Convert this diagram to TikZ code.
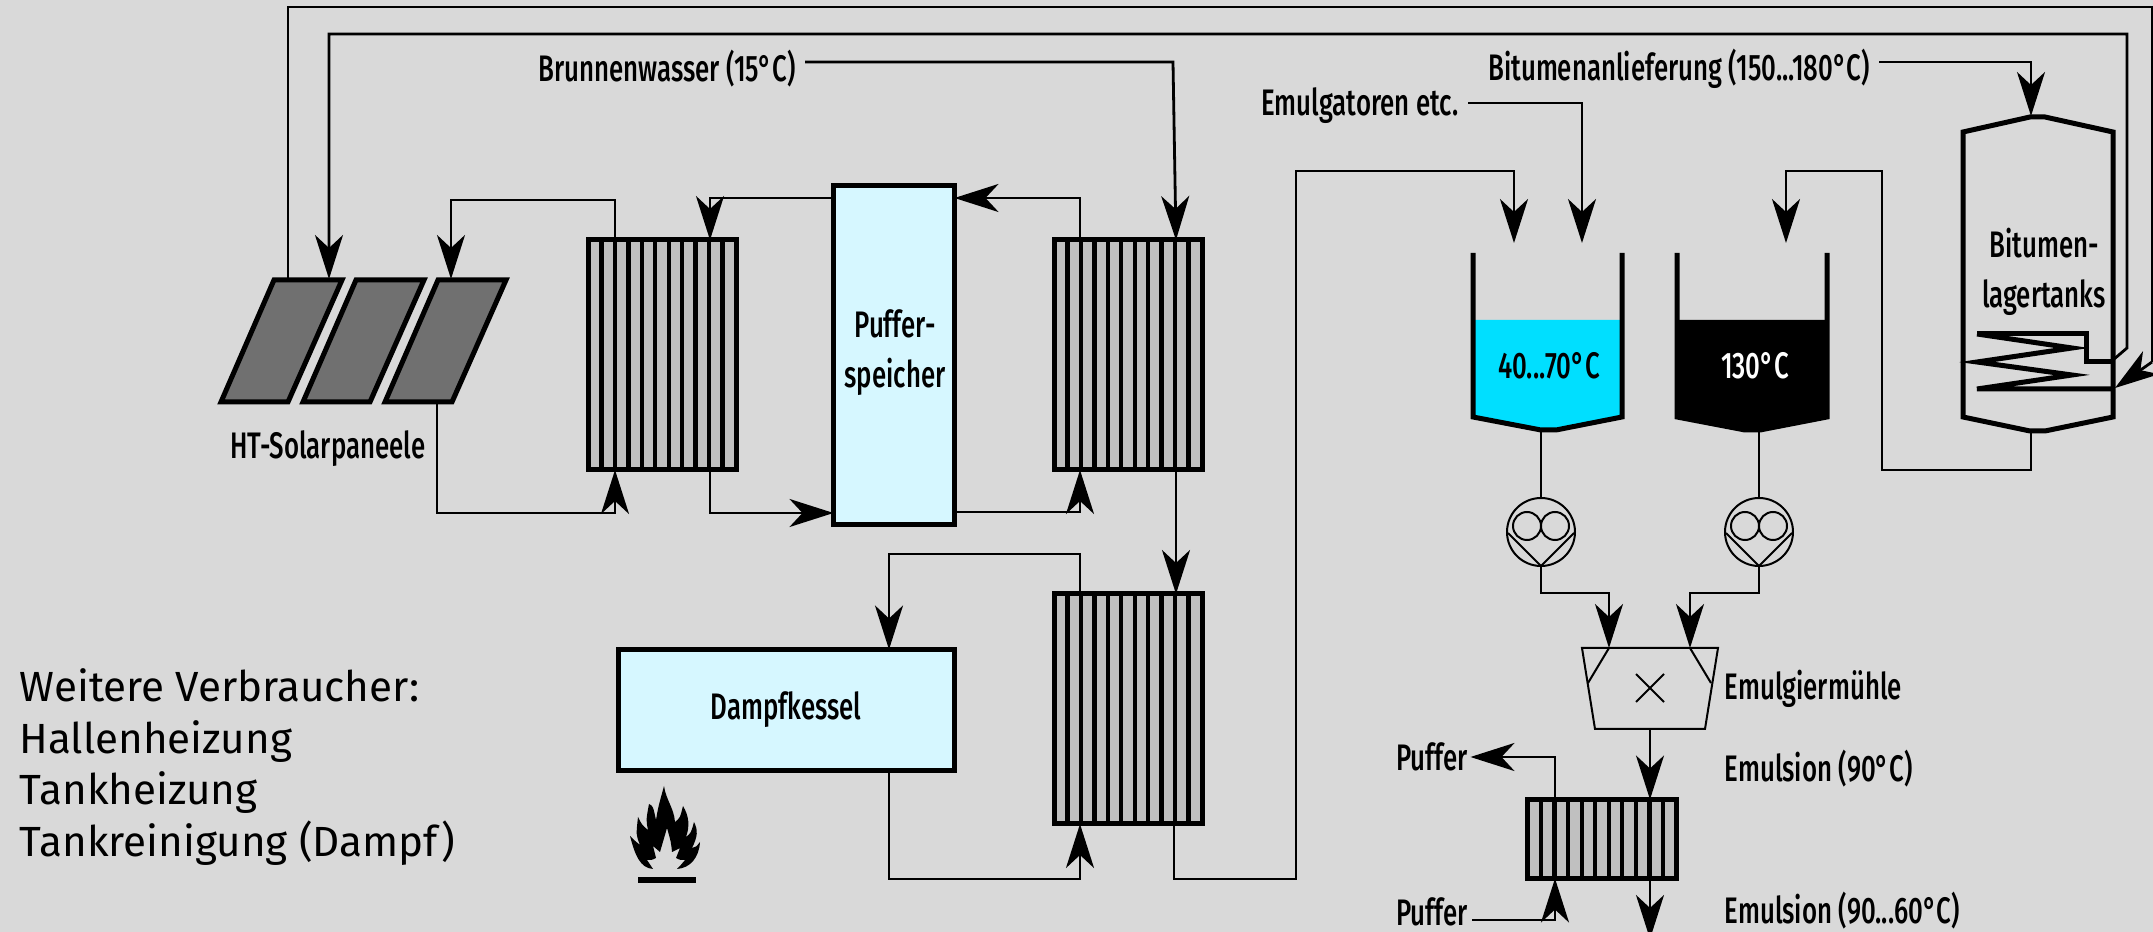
\documentclass[tikz,border=0pt]{standalone}
\usepackage{fontspec}
\setmainfont[FakeStretch=0.70,UprightFont=* Medium]{Fira Sans}
\newfontfamily\breit{Fira Sans}
\usetikzlibrary{arrows.meta, calc}
\definecolor{grund}{HTML}{D9D9D9}
\definecolor{hell}{HTML}{D6F7FF}
\definecolor{cyan}{HTML}{00DFFF}
\definecolor{rippe}{HTML}{C0C0C0}
\definecolor{paneel}{HTML}{707070}
\newcommand{\rippen}[1]{
  \foreach \i in {1,...,10}
    \draw[line width=0.43mm] ($(#1.north west)!\i/11!(#1.north east)$) -- ($(#1.south west)!\i/11!(#1.south east)$);
}
\newcommand{\pumpe}[1]{
  \draw[duenn] ($(#1)+(-14,-6)$) circle (14) ($(#1)+(14,-6)$) circle (14);
  \draw[duenn] ($(#1)+(-33,1)$) -- (#1.south) -- ($(#1)+(33,1)$);
}
\begin{document}
\begin{tikzpicture}[
    x=0.1mm, y=-0.1mm,
    font=\fontsize{10.5}{12}\selectfont,
    dick/.style = {line width=0.5mm},
    duenn/.style = {line width=0.2mm},
    pil/.style = {black, line width=0.28mm, -{Stealth[length=4.4mm, width=2.8mm, inset=1.3mm]}},
    rohr/.style = {black, line width=0.28mm},
    punkt/.style = {rectangle, draw, dick, inner sep=0, outer sep=0},
    speicher/.style = {punkt, fill=hell},
    tauscher/.style = {punkt, fill=rippe},
    pumpenkreis/.style = {circle, draw, duenn, inner sep=0, outer sep=0, minimum size=6.8mm},
    txt/.style = {inner sep=0.9mm}
    ]

  \fill[grund] (0,0) rectangle (2153,932);
  \useasboundingbox (0,0) rectangle (2153,932);

  % solar panels
  \foreach \s in {0,82,164}
    \draw[dick, fill=paneel, line join=miter] (221+\s,402) -- (274+\s,280) -- (342+\s,280) -- (288+\s,402) -- cycle;
  \coordinate (solarlinks) at (288,280);
  \coordinate (solarein1) at (329,279);
  \coordinate (solarein2) at (451,279);
  \coordinate (solaraus) at (437,403);
  \node[txt] (solartext) at (328,449) {HT-Solarpaneele};

  % storage and exchangers
  \node[speicher, minimum width=12.1mm, minimum height=33.9mm] (puffer) at (894,355) {};
  \node[font=\fontsize{10.5}{14.2}\selectfont, align=center] (puffertext) at (895,353) {Puffer-\\speicher};
  \node[tauscher, minimum width=14.8mm, minimum height=23mm] (hxa) at (662,355) {};
  \node[tauscher, minimum width=14.8mm, minimum height=23mm] (hxb) at (1128,355) {};
  \node[tauscher, minimum width=14.8mm, minimum height=23mm] (hxc) at (1128,709) {};
  \node[tauscher, minimum width=14.9mm, minimum height=7.9mm] (hxd) at (1602,839) {};
  \rippen{hxa}
  \rippen{hxb}
  \rippen{hxc}
  \rippen{hxd}

  \node[speicher, minimum width=33.6mm, minimum height=12.1mm] (kessel) at (786,710) {Dampfkessel};

  % flame
  \fill (664,786) .. controls (666,800) and (674,808) .. (675,822)
    .. controls (680,818) .. (683,806) .. controls (689,816) and (690,826) .. (686,837)
    .. controls (691,833) .. (694,822) .. controls (698,830) and (698,836) .. (692,848)
    .. controls (696,847) .. (700,842) .. controls (699,858) and (690,868) .. (677,869)
    .. controls (680,866) .. (685,860) .. controls (680,860) .. (676,858) -- (680,848) -- (672,852)
    .. controls (671,842) .. (667,828) .. controls (663,840) .. (660,852) -- (653,846) -- (656,858)
    .. controls (652,860) .. (647,860) .. controls (650,865) .. (653,869)
    .. controls (640,868) and (635,855) .. (630,836) .. controls (634,840) .. (640,845)
    .. controls (636,835) .. (638,817) .. controls (642,825) .. (648,830)
    .. controls (646,820) .. (649,804) .. controls (653,806) .. (656,820)
    .. controls (658,808) .. (664,786) -- cycle;
  \fill (638,877) rectangle (696,883);

  % mixing tanks
  \fill[cyan] (1473,320) -- (1473,417) -- (1541,430) -- (1556,430) -- (1622,417) -- (1622,320) -- cycle;
  \fill[black] (1677,320) -- (1677,417) -- (1745,430) -- (1760,430) -- (1827,417) -- (1827,320) -- cycle;
  \draw[dick] (1473,253) -- (1473,417) -- (1541,430) -- (1556,430) -- (1622,417) -- (1622,253);
  \draw[dick] (1677,253) -- (1677,417) -- (1745,430) -- (1760,430) -- (1827,417) -- (1827,253);
  \node (tempa) at (1549,366) {40...70°C};
  \node[text=white] (tempb) at (1755,366) {130°C};
  \coordinate (tankaein) at (1514,243);
  \coordinate (tankazu) at (1582,243);
  \coordinate (tankbein) at (1786,243);
  \coordinate (tankaaus) at (1541,430);
  \coordinate (tankbaus) at (1759,430);

  % storage tank
  \draw[dick] (1963,132) -- (2030,117) -- (2045,117) -- (2113,132) -- (2113,417) -- (2045,431) -- (2030,431) -- (1963,417) -- cycle;
  \draw[dick] (1977,334) -- (2086,334) -- (2086,362) -- (2113,362);
  \draw[dick] (1977,334) -- (2072,348) -- (1977,362) -- (2072,375) -- (1977,389) -- (2113,389);
  \node[font=\fontsize{10.5}{14.2}\selectfont, align=center] (lagertext) at (2044,272) {Bitumen-\\lagertanks};
  \coordinate (lagerein) at (2031,116);
  \coordinate (lageraus) at (2031,431);
  \coordinate (schlangeein) at (2113,360);
  \coordinate (schlangeaus) at (2115,388);

  % pumps
  \node[pumpenkreis] (pa) at (1541,532) {};
  \node[pumpenkreis] (pb) at (1759,532) {};
  \pumpe{pa}
  \pumpe{pb}

  % mill
  \draw[duenn] (1582,648) -- (1718,648) -- (1705,729) -- (1595,729) -- cycle;
  \draw[duenn] (1609,648) -- (1588,683) (1690,648) -- (1711,683);
  \draw[duenn] (1636,674) -- (1664,702) (1636,702) -- (1664,674);
  \coordinate (muehleein1) at (1609,648);
  \coordinate (muehleein2) at (1690,648);
  \coordinate (muehleaus) at (1650,729);
  \coordinate (produkt) at (1650,939);

  % labels
  \node[txt] (brunnen) at (667,69) {Brunnenwasser (15°C)};
  \node[txt] (emulgator) at (1360,106) {Emulgatoren etc.};
  \node[txt] (bitumen) at (1679,69) {Bitumenanlieferung (150...180°C)};
  \node[inner sep=0.2mm] (puffera) at (1432,757) {Puffer};
  \node[inner sep=0.4mm] (pufferb) at (1432,912) {Puffer};
  \node[anchor=west, inner sep=0] (muehletext) at (1724,689) {Emulgiermühle};
  \node[anchor=west, inner sep=0] (emulsiona) at (1724,769) {Emulsion (90°C)};
  \node[anchor=west, inner sep=0] (emulsionb) at (1724,911) {Emulsion (90...60°C)};
  \node[anchor=north west, inner sep=0, align=left, font=\breit\fontsize{12}{14.7}\selectfont] (verbraucher) at (19,668)
    {Weitere Verbraucher:\\Hallenheizung\\Tankheizung\\Tankreinigung (Dampf)};

  % pipes
  \draw[rohr] (solarlinks) -- (288,7) -- (2152,7) -- (2152,362);
  \draw[pil] (2152,362) -- (schlangeaus);
  \draw[pil] (schlangeein) -- (2127,348) -- (2127,34) -| (solarein1);
  \draw[pil] (hxa.north -| 615,0) -- ++(0,-40) -| (solarein2);
  \draw[pil] (solaraus) |- (615,513) -- (hxa.south -| 615,0);
  \draw[pil] (hxa.south -| 710,0) |- (puffer.west |- 0,513);
  \draw[pil] (puffer.west |- 0,198) -| (hxa.north -| 710,0);
  \draw[pil] (hxb.north -| 1080,0) |- (puffer.east |- 0,198);
  \draw[pil] (puffer.east |- 0,512) -| (hxb.south -| 1080,0);
  \draw[pil] (brunnen.east |- 0,62) -- (1173,62) -- (hxb.north -| 1176,0);
  \draw[pil] (hxb.south -| 1176,0) -- (hxc.north -| 1176,0);
  \draw[pil] (hxc.north -| 1080,0) -- ++(0,-40) -| (kessel.north -| 889,0);
  \draw[pil] (kessel.south -| 889,0) |- (1080,879) -- (hxc.south -| 1080,0);
  \draw[pil] (hxc.south -| 1174,0) |- (1296,879) -- (1296,171) -| (tankaein);
  \draw[pil] (emulgator.east |- 0,103) -| (tankazu);
  \draw[pil] (lageraus) |- (1882,470) -- (1882,171) -| (tankbein);
  \draw[pil] (bitumen.east |- 0,62) -| (lagerein);
  \draw[duenn] (tankaaus) -- (pa.north);
  \draw[duenn] (tankbaus) -- (pb.north);
  \draw[pil] (pa.south) |- (1609,593) -- (muehleein1);
  \draw[pil] (pb.south) |- (1690,593) -- (muehleein2);
  \draw[pil] (muehleaus) -- (hxd.north -| 1650,0);
  \draw[pil] (hxd.north -| 1555,0) |- (puffera.east);
  \draw[pil] (pufferb.east |- 0,920) -| (hxd.south -| 1555,0);
  \draw[pil] (hxd.south -| 1650,0) -- (produkt);

\end{tikzpicture}
\end{document}
